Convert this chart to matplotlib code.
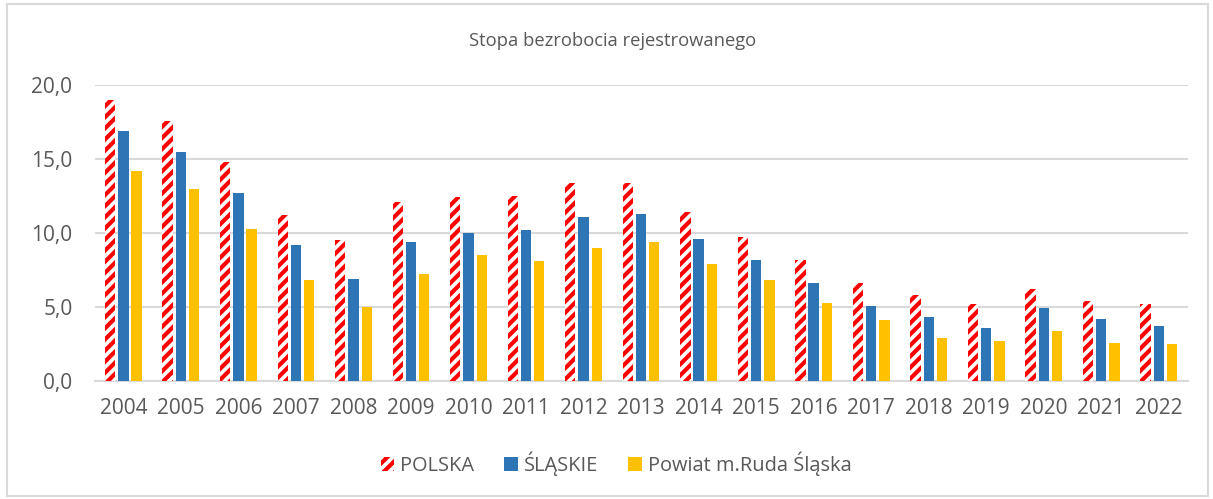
import matplotlib.pyplot as plt
import matplotlib.patches as mpatches
import numpy as np

years = [str(y) for y in range(2004, 2023)]
polska = [19.0, 17.6, 14.8, 11.2, 9.5, 12.1, 12.4, 12.5, 13.4, 13.4,
          11.4, 9.7, 8.2, 6.6, 5.8, 5.2, 6.2, 5.4, 5.2]
slaskie = [16.9, 15.5, 12.7, 9.2, 6.9, 9.4, 10.0, 10.2, 11.1, 11.3,
           9.6, 8.2, 6.6, 5.1, 4.3, 3.6, 4.9, 4.2, 3.7]
ruda = [14.2, 13.0, 10.3, 6.8, 5.0, 7.2, 8.5, 8.1, 9.0, 9.4,
        7.9, 6.8, 5.3, 4.1, 2.9, 2.7, 3.4, 2.6, 2.5]

plt.rcParams['font.family'] = ['Open Sans', 'DejaVu Sans']
plt.rcParams['hatch.linewidth'] = 3.0

fig = plt.figure(figsize=(12.13, 4.99), dpi=100)
ax = fig.add_axes([0.078, 0.2365, 0.901, 0.5932])

x = np.arange(len(years))
w = 0.18
ax.bar(x - 0.23, polska, w, color='white', edgecolor='#ff0000', hatch='///',
       linewidth=0, label='POLSKA', zorder=3)
ax.bar(x, slaskie, w, color='#2e75b6', label='ŚLĄSKIE', zorder=3)
ax.bar(x + 0.23, ruda, w, color='#ffc000', label='Powiat m.Ruda Śląska', zorder=3)

ax.set_xlim(-0.5, len(years) - 0.5)
ax.set_ylim(0, 20)
ax.set_yticks([0, 5, 10, 15, 20])
ax.set_yticklabels(['0,0', '5,0', '10,0', '15,0', '20,0'])
ax.set_xticks(x)
ax.set_xticklabels(years)
ax.tick_params(length=0, labelsize=15, colors='#595959')
ax.tick_params(axis='x', pad=12)
ax.tick_params(axis='y', pad=16)
ax.yaxis.grid(True, color='#d9d9d9', linewidth=1.5, zorder=0)
for s in ['top', 'right', 'left']:
    ax.spines[s].set_visible(False)
ax.spines['bottom'].set_color('#d9d9d9')
ax.spines['bottom'].set_linewidth(1.5)

fig.text(0.505, 0.917, 'Stopa bezrobocia rejestrowanego', ha='center',
         va='center', fontsize=13.2, color='#595959')

fig.legend(loc='center', bbox_to_anchor=(0.508, 0.07), ncol=3, frameon=False,
           fontsize=14.4, labelcolor='#595959', handlelength=0.68,
           handleheight=0.68, handletextpad=0.3, columnspacing=1.5)

fig.patches.append(mpatches.Rectangle((0.006, 0.006), 0.99, 0.985,
                                      transform=fig.transFigure, fill=False,
                                      edgecolor='#d9d9d9', linewidth=1.5))

fig.savefig('out.png', dpi=100)
